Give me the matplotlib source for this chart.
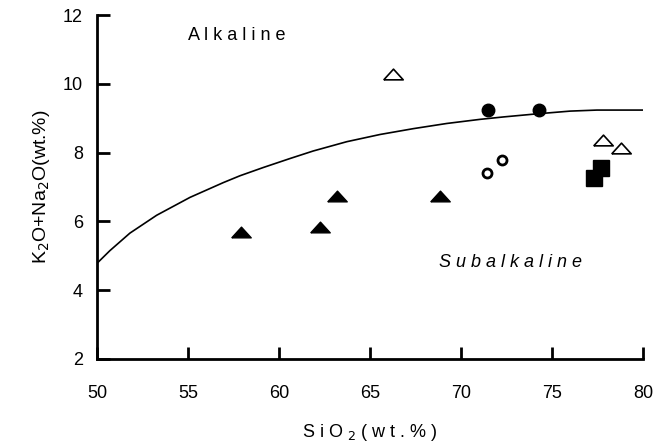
import matplotlib
matplotlib.use("Agg")
import matplotlib.pyplot as plt

plt.rcParams['font.family'] = ['Liberation Sans', 'DejaVu Sans']

# alkaline / subalkaline dividing line
curve_x = [50, 50.71, 51.81, 53.28, 55.11, 56.94, 57.86, 59.14, 60.6, 61.88, 63.72,
           65.55, 67.38, 69.21, 71.04, 72.32, 74.16, 75.99, 77.46, 80]
curve_y = [4.78, 5.15, 5.66, 6.18, 6.70, 7.13, 7.33, 7.57, 7.83, 8.05, 8.32,
           8.53, 8.70, 8.85, 8.97, 9.04, 9.13, 9.21, 9.24, 9.24]

# sample groups
ftri_x = [57.9, 62.25, 63.2, 68.85]
ftri_y = [5.68, 5.85, 6.75, 6.75]
otri_x = [66.25, 77.8, 78.8]
otri_y = [10.3, 8.38, 8.15]
fcirc_x = [71.5, 74.25]
fcirc_y = [9.25, 9.25]
ocirc_x = [71.4, 72.25]
ocirc_y = [7.4, 7.78]
fsq_x = [77.3, 77.7]
fsq_y = [7.26, 7.55]

xticks = [50, 55, 60, 65, 70, 75, 80]
yticks = [2, 4, 6, 8, 10, 12]

tri = [(-1, -0.55), (1, -0.55), (0, 0.55), (-1, -0.55)]

fig = plt.figure(figsize=(6.55, 4.47), dpi=100)
ax = fig.add_axes([0.148, 0.197, 0.834, 0.769])

ax.plot(curve_x, curve_y, color='black', lw=1.2)
ax.plot(ftri_x, ftri_y, ls='none', marker=tri, ms=14, mfc='black', mec='black')
ax.plot(otri_x, otri_y, ls='none', marker=tri, ms=14, mfc='white', mec='black', mew=1.2)
ax.plot(fcirc_x, fcirc_y, ls='none', marker='o', ms=9, mfc='black', mec='black')
ax.plot(ocirc_x, ocirc_y, ls='none', marker='o', ms=6.5, mfc='white', mec='black', mew=2)
ax.plot(fsq_x, fsq_y, ls='none', marker='s', ms=11, mfc='black', mec='black')

ax.set_xlim(50, 80)
ax.set_ylim(2, 12)
ax.set_xticks(xticks)
ax.set_yticks(yticks)
ax.spines['top'].set_visible(False)
ax.spines['right'].set_visible(False)
ax.spines['left'].set_linewidth(2)
ax.spines['bottom'].set_linewidth(2)
ax.tick_params(direction='in', length=9, width=2, labelsize=13)
ax.tick_params(axis='x', pad=19)
ax.tick_params(axis='y', pad=10)

ax.text(57.7, 11.4, 'A l k a l i n e', fontsize=13, ha='center', va='center')
ax.text(72.7, 4.8, 'S u b a l k a l i n e', fontsize=13, ha='center', va='center', style='italic')

ax.set_xlabel('S i O $_2$ ( w t . % )', fontsize=13, labelpad=14)
ax.set_ylabel('K$_2$O+Na$_2$O(wt.%)', fontsize=14, labelpad=8)

fig.savefig('out.png', dpi=100)
